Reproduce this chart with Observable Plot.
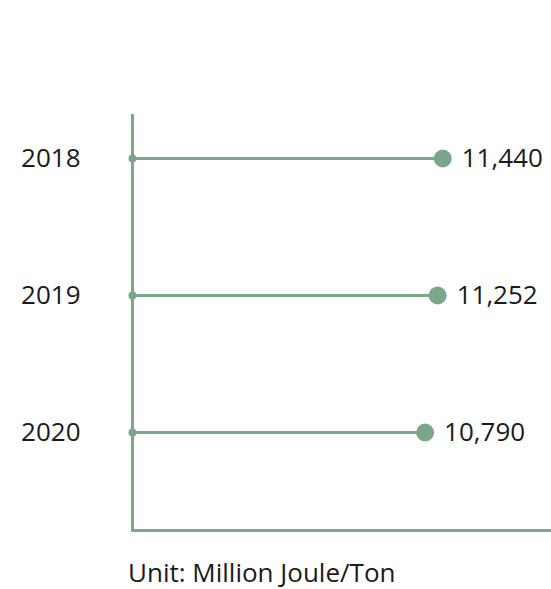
<!DOCTYPE html>
<html>
<head>
<meta charset="utf-8">
<script src="https://cdn.jsdelivr.net/npm/d3@7"></script>
<script src="https://cdn.jsdelivr.net/npm/@observablehq/plot@0.6"></script>
<style>
  html, body { margin: 0; padding: 0; background: #fff; }
  #chart svg { display: block; }
  #caption { font-family: "Open Sans", sans-serif; font-size: 26px; color: #1a1a1a; margin: 12px 0 0 128px; line-height: 30px; }
</style>
</head>
<body>
<div id="chart"></div>
<div id="caption"></div>
<script>
const years = ["2018", "2019", "2020"];
const values = [11440, 11252, 10790];
const unitLabel = "Unit: Million Joule/Ton";

const data = years.map((y, i) => ({year: y, value: values[i]}));
const green = "#7aa68a";

const chart = Plot.plot({
  width: 551,
  height: 545,
  marginLeft: 132,
  marginRight: 0,
  marginTop: 115,
  marginBottom: 15,
  style: {fontFamily: "Open Sans, sans-serif", fontSize: "26px", color: "#1a1a1a", background: "#fff"},
  x: {domain: [0, 15450], axis: null},
  y: {type: "point", domain: years, padding: 0, insetTop: 42, insetBottom: 98},
  marks: [
    Plot.frame({anchor: "left", stroke: green, strokeWidth: 3, strokeOpacity: 1}),
    Plot.frame({anchor: "bottom", stroke: green, strokeWidth: 3, strokeOpacity: 1}),
    Plot.ruleY(data, {y: "year", x1: 0, x2: "value", stroke: green, strokeWidth: 3}),
    Plot.dot(data, {y: "year", x: 0, r: 4, fill: green}),
    Plot.dot(data, {y: "year", x: "value", r: 9, fill: green}),
    Plot.text(data, {y: "year", x: "value", text: d => d3.format(",")(d.value), textAnchor: "start", dx: 19, fill: "#1a1a1a", fontSize: 26}),
    Plot.axisY({tickSize: 0, tickPadding: 52, fontSize: 26, label: null, color: "#1a1a1a"})
  ]
});
document.getElementById("chart").append(chart);
document.getElementById("caption").textContent = unitLabel;
</script>
</body>
</html>
